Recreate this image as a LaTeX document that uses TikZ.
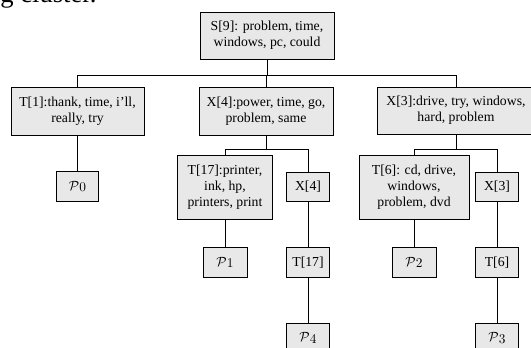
\documentclass[tikz,border=0pt]{standalone}
\usepackage{fontspec}
\setmainfont{Liberation Serif}
\newcommand{\pset}[1]{$\mathcal{P}$\raisebox{-0.9pt}{$#1$}}
\begin{document}
\begin{tikzpicture}[x=0.75pt,y=-0.75pt,
    box/.style={draw,fill=black!9,line width=0.6pt,inner sep=0pt,align=center,
      font=\fontsize{10.3}{12}\selectfont},
    leaf/.style={box,minimum width=32pt,minimum height=22pt},
    link/.style={line width=0.6pt}]
  \useasboundingbox (0,0) rectangle (531,347);
  \clip (0,0) rectangle (531,347);
  % caption text cut by the crop
  \node (cap) [anchor=base west,inner sep=0pt,font=\fontsize{20}{24}\selectfont] at (0,2) {g cluster.};
  % first two levels
  \node (s9) [box,minimum width=100.5pt,minimum height=35.25pt] at (267,35.5) {S[9]: problem, time,\\windows, pc, could};
  \node (t1) [box,minimum width=99.75pt,minimum height=36pt] at (77.5,111) {T[1]:thank, time, i’ll,\\really, try};
  \node (x4) [box,minimum width=100.5pt,minimum height=36pt] at (266,111) {X[4]:power, time, go,\\problem, same};
  \node (x3) [box,minimum width=118.5pt,minimum height=35.25pt] at (456,110.5) {X[3]:drive, try, windows,\\hard, problem};
  % third level
  \node (p0) [leaf] at (77.5,186.5) {\pset{0}};
  \node (t17) [box,minimum width=71.25pt,minimum height=48pt] at (225,187) {T[17]:printer,\\ink, hp,\\printers, print};
  \node (x4b) [leaf] at (308,187) {X[4]};
  \node (t6) [box,minimum width=82.5pt,minimum height=48pt] at (414,187) {T[6]: cd, drive,\\windows,\\problem, dvd};
  \node (x3b) [leaf] at (497,187) {X[3]};
  % lower levels
  \node (p1) [leaf,minimum width=33pt] at (225,262.5) {\pset{1}};
  \node (t17b) [leaf] at (308,262.5) {T[17]};
  \node (p2) [leaf,minimum width=33pt] at (414,262.5) {\pset{2}};
  \node (t6b) [leaf] at (497,262.5) {T[6]};
  \node (p4) [leaf] at (308,338) {\pset{4}};
  \node (p3) [leaf] at (497,338) {\pset{3}};
  % bars
  \coordinate (b0) at (267,75);
  \coordinate (b4) at (266,149);
  \coordinate (b3) at (456,149);
  \draw[link] (s9.south) -- (b0);
  \draw[link] (b0) -| (t1.north);
  \draw[link] (b0) -| (x4.north);
  \draw[link] (b0) -| (x3.north);
  \draw[link] (t1.south) -- (p0.north);
  \draw[link] (x4.south) -- (b4);
  \draw[link] (b4) -| (t17.north);
  \draw[link] (b4) -| (x4b.north);
  \draw[link] (x3.south) -- (b3);
  \draw[link] (b3) -| (t6.north);
  \draw[link] (b3) -| (x3b.north);
  \draw[link] (t17.south) -- (p1.north);
  \draw[link] (x4b.south) -- (t17b.north);
  \draw[link] (t6.south) -- (p2.north);
  \draw[link] (x3b.south) -- (t6b.north);
  \draw[link] (t17b.south) -- (p4.north);
  \draw[link] (t6b.south) -- (p3.north);
\end{tikzpicture}
\end{document}
